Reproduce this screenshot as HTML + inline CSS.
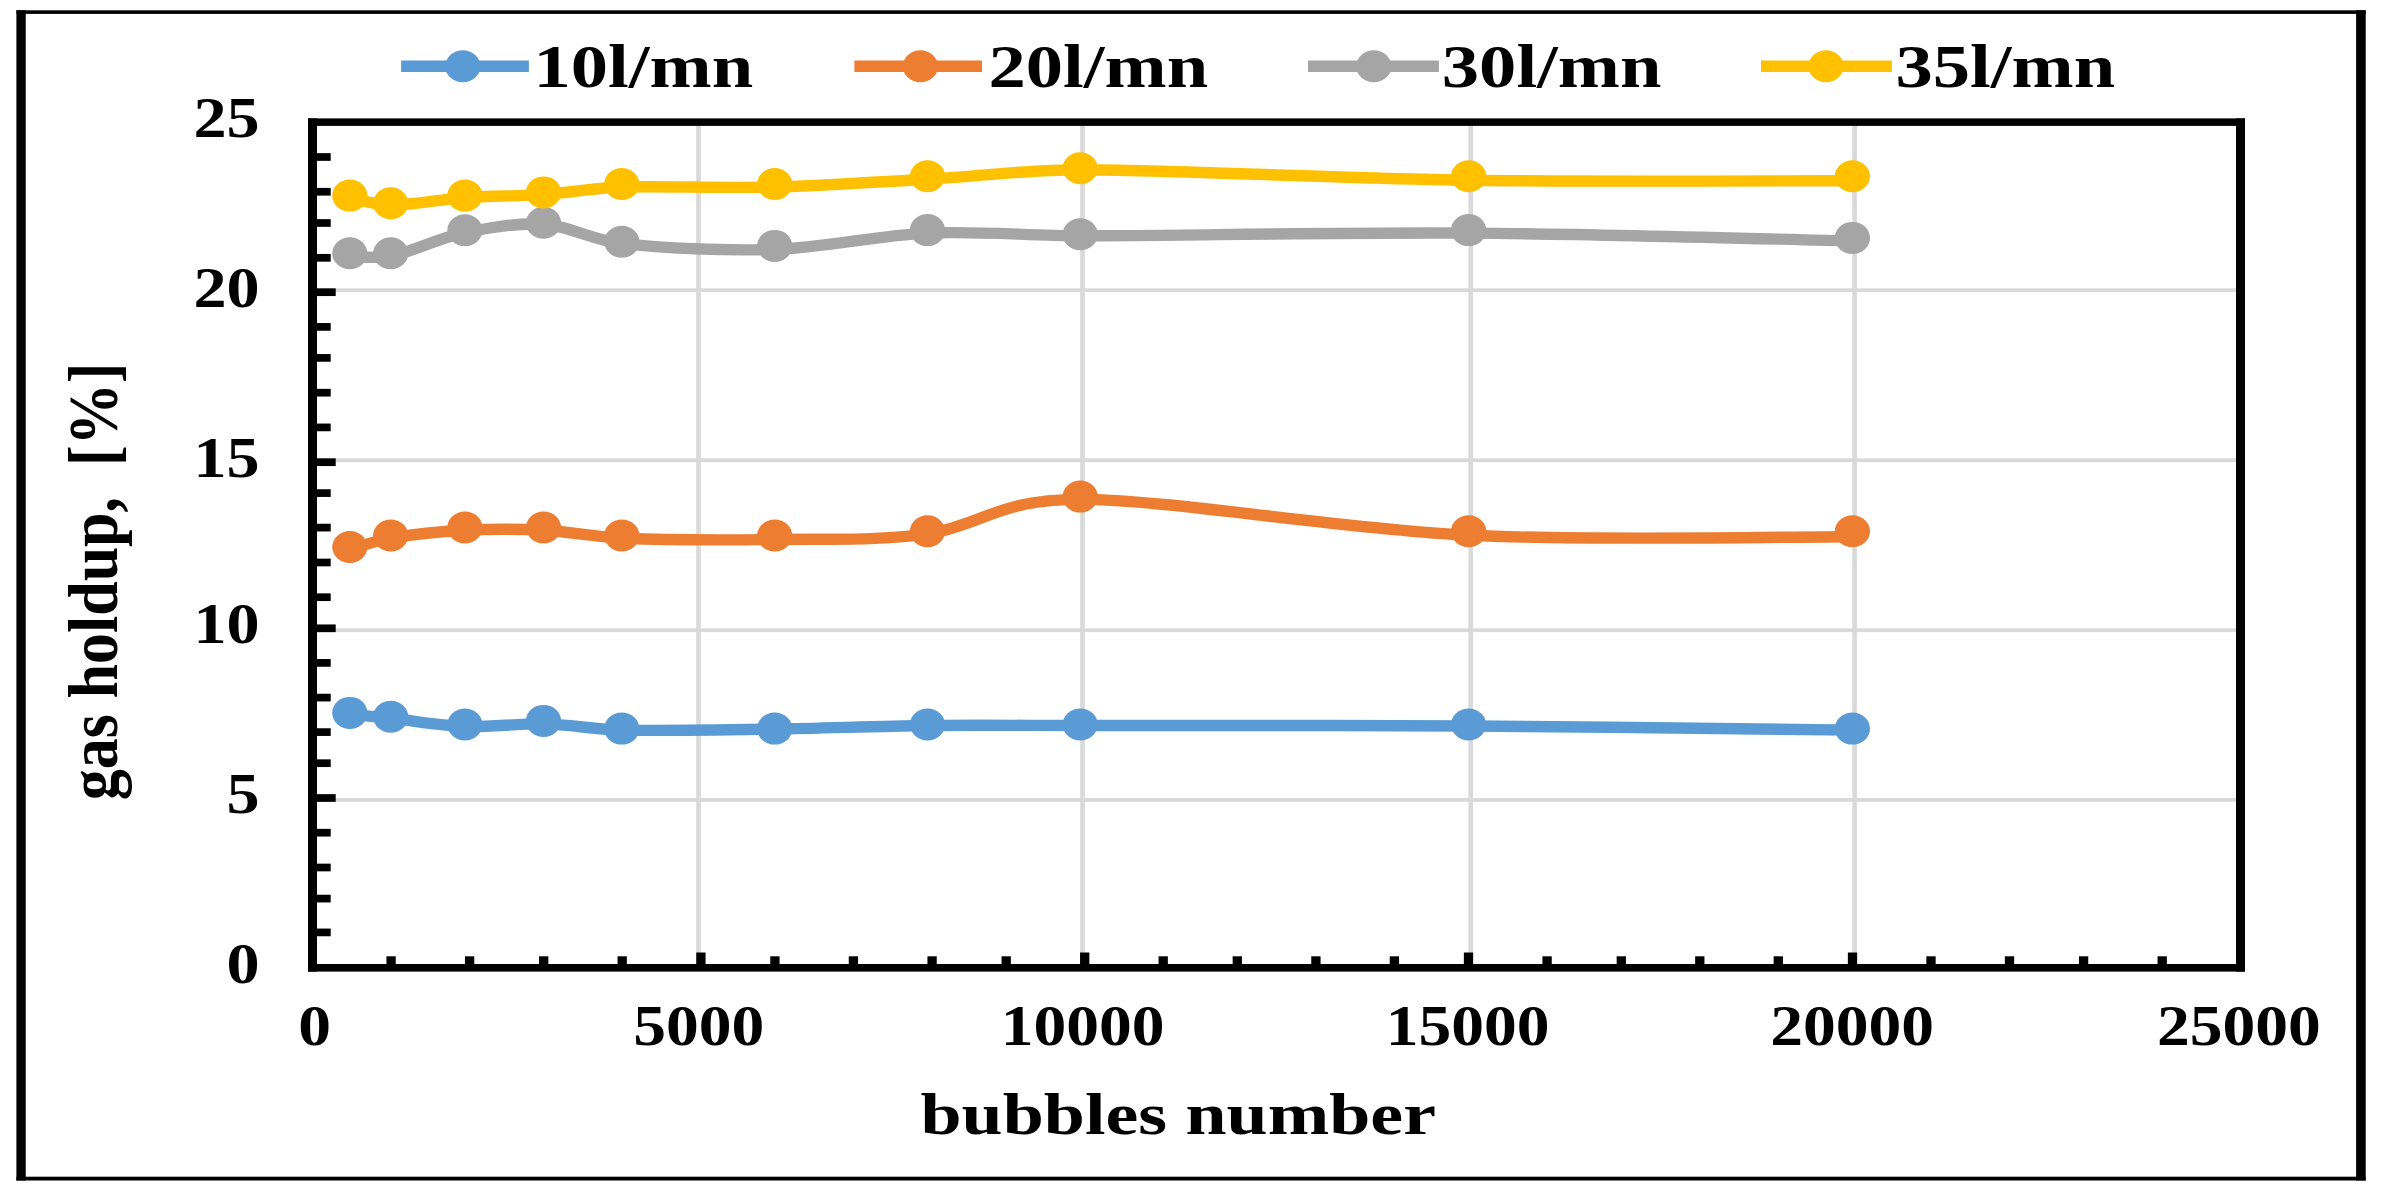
<!DOCTYPE html>
<html lang="en">
<head>
<meta charset="utf-8">
<title>gas holdup vs bubbles number</title>
<style>
html, body { margin: 0; padding: 0; background: #fff; }
body { width: 2384px; height: 1203px; overflow: hidden; }
svg { display: block; }
text { white-space: pre; }
</style>
</head>
<body>
<svg width="2384" height="1203" viewBox="0 0 2384 1203">
<rect x="0" y="0" width="2384" height="1203" fill="#fff"/>
<g id="frame">
<rect x="16.40" y="10.30" width="9.30" height="1170.20" fill="#000"/>
<rect x="2356.10" y="10.30" width="9.60" height="1170.20" fill="#000"/>
<rect x="16.40" y="10.30" width="2349.30" height="3.60" fill="#000"/>
<rect x="16.40" y="1176.70" width="2349.30" height="3.80" fill="#000"/>
</g>
<g id="grid">
<rect x="317.00" y="288.30" width="1919.00" height="3.80" fill="#d9d9d9"/>
<rect x="317.00" y="458.30" width="1919.00" height="3.80" fill="#d9d9d9"/>
<rect x="317.00" y="628.30" width="1919.00" height="3.80" fill="#d9d9d9"/>
<rect x="317.00" y="798.00" width="1919.00" height="3.80" fill="#d9d9d9"/>
<rect x="696.20" y="125.90" width="4.60" height="838.10" fill="#d9d9d9"/>
<rect x="1080.20" y="125.90" width="4.60" height="838.10" fill="#d9d9d9"/>
<rect x="1468.40" y="125.90" width="4.60" height="838.10" fill="#d9d9d9"/>
<rect x="1852.30" y="125.90" width="4.60" height="838.10" fill="#d9d9d9"/>
</g>
<g id="series">
<path d="M349.8,714.4 C356.6,715.0 377.1,716.8 390.7,718.2 C409.9,720.2 440.0,725.6 464.9,726.5 C490.4,727.5 517.4,723.3 543.5,723.9 C569.6,724.5 595.6,729.5 621.8,730.1 C660.3,731.0 723.8,729.9 774.7,729.1 C825.6,728.3 876.6,726.1 927.5,725.5 C978.4,724.9 1029.3,725.5 1080.2,725.5 C1170.4,725.6 1339.9,725.2 1468.6,726.0 C1596.5,726.8 1788.4,729.4 1852.4,730.1" fill="none" stroke="#5b9bd5" stroke-width="11.4" stroke-linecap="round" stroke-linejoin="round"/>
<ellipse cx="349.8" cy="712.9" rx="17.6" ry="16.0" fill="#5b9bd5"/>
<ellipse cx="390.7" cy="716.7" rx="17.6" ry="16.0" fill="#5b9bd5"/>
<ellipse cx="464.9" cy="724.5" rx="17.6" ry="16.0" fill="#5b9bd5"/>
<ellipse cx="543.5" cy="720.9" rx="17.6" ry="16.0" fill="#5b9bd5"/>
<ellipse cx="621.8" cy="728.6" rx="17.6" ry="16.0" fill="#5b9bd5"/>
<ellipse cx="774.7" cy="728.6" rx="17.6" ry="16.0" fill="#5b9bd5"/>
<ellipse cx="927.5" cy="724.5" rx="17.6" ry="16.0" fill="#5b9bd5"/>
<ellipse cx="1080.2" cy="724.5" rx="17.6" ry="16.0" fill="#5b9bd5"/>
<ellipse cx="1468.6" cy="724.5" rx="17.6" ry="16.0" fill="#5b9bd5"/>
<ellipse cx="1852.4" cy="728.6" rx="17.6" ry="16.0" fill="#5b9bd5"/>
<path d="M349.8,549.5 C356.6,547.6 376.7,540.3 390.7,538.0 C409.9,534.8 440.1,531.5 464.9,530.2 C490.4,528.9 517.4,528.9 543.5,530.2 C569.6,531.5 595.6,537.1 621.8,538.2 C660.3,539.8 723.8,540.2 774.7,539.5 C825.7,538.8 877.0,540.8 927.5,534.2 C986.0,523.4 996.9,499.6 1080.2,499.4 C1170.4,499.6 1339.9,529.0 1468.6,535.2 C1596.4,541.4 1788.4,536.5 1852.4,536.7" fill="none" stroke="#ed7d31" stroke-width="11.4" stroke-linecap="round" stroke-linejoin="round"/>
<ellipse cx="349.8" cy="547.0" rx="17.6" ry="16.0" fill="#ed7d31"/>
<ellipse cx="390.7" cy="535.5" rx="17.6" ry="16.0" fill="#ed7d31"/>
<ellipse cx="464.9" cy="527.5" rx="17.6" ry="16.0" fill="#ed7d31"/>
<ellipse cx="543.5" cy="527.5" rx="17.6" ry="16.0" fill="#ed7d31"/>
<ellipse cx="621.8" cy="535.5" rx="17.6" ry="16.0" fill="#ed7d31"/>
<ellipse cx="774.7" cy="535.5" rx="17.6" ry="16.0" fill="#ed7d31"/>
<ellipse cx="927.5" cy="531.2" rx="17.6" ry="16.0" fill="#ed7d31"/>
<ellipse cx="1080.2" cy="496.6" rx="17.6" ry="16.0" fill="#ed7d31"/>
<ellipse cx="1468.6" cy="531.2" rx="17.6" ry="16.0" fill="#ed7d31"/>
<ellipse cx="1852.4" cy="531.2" rx="17.6" ry="16.0" fill="#ed7d31"/>
<path d="M349.8,256.3 C356.6,256.3 377.3,259.0 390.7,256.3 C409.9,252.4 439.5,238.0 464.9,232.7 C490.4,227.4 517.4,222.5 543.5,224.3 C569.6,226.1 595.1,240.8 621.8,243.7 C660.3,247.9 723.8,251.2 774.7,249.4 C825.7,247.6 876.6,235.4 927.5,233.1 C978.4,230.8 1029.3,235.8 1080.2,235.8 C1170.4,235.8 1339.9,232.2 1468.6,233.1 C1596.6,233.9 1788.4,239.6 1852.4,240.9" fill="none" stroke="#a5a5a5" stroke-width="11.4" stroke-linecap="round" stroke-linejoin="round"/>
<ellipse cx="349.8" cy="253.3" rx="17.6" ry="16.0" fill="#a5a5a5"/>
<ellipse cx="390.7" cy="253.3" rx="17.6" ry="16.0" fill="#a5a5a5"/>
<ellipse cx="464.9" cy="230.2" rx="17.6" ry="16.0" fill="#a5a5a5"/>
<ellipse cx="543.5" cy="222.8" rx="17.6" ry="16.0" fill="#a5a5a5"/>
<ellipse cx="621.8" cy="241.7" rx="17.6" ry="16.0" fill="#a5a5a5"/>
<ellipse cx="774.7" cy="245.9" rx="17.6" ry="16.0" fill="#a5a5a5"/>
<ellipse cx="927.5" cy="230.1" rx="17.6" ry="16.0" fill="#a5a5a5"/>
<ellipse cx="1080.2" cy="234.3" rx="17.6" ry="16.0" fill="#a5a5a5"/>
<ellipse cx="1468.6" cy="230.1" rx="17.6" ry="16.0" fill="#a5a5a5"/>
<ellipse cx="1852.4" cy="237.9" rx="17.6" ry="16.0" fill="#a5a5a5"/>
<path d="M349.8,197.6 C356.6,198.9 376.8,205.3 390.7,205.3 C409.9,205.3 440.1,199.4 464.9,197.6 C490.4,195.8 517.4,196.2 543.5,194.4 C569.6,192.6 595.6,187.8 621.8,187.0 C660.3,185.8 723.8,188.3 774.7,187.0 C825.7,185.7 876.6,182.1 927.5,179.2 C978.4,176.3 1029.2,169.6 1080.2,169.7 C1170.4,169.9 1339.9,178.4 1468.6,180.2 C1596.5,182.0 1788.4,180.6 1852.4,180.7" fill="none" stroke="#ffc000" stroke-width="11.4" stroke-linecap="round" stroke-linejoin="round"/>
<ellipse cx="349.8" cy="195.6" rx="17.6" ry="16.0" fill="#ffc000"/>
<ellipse cx="390.7" cy="203.3" rx="17.6" ry="16.0" fill="#ffc000"/>
<ellipse cx="464.9" cy="195.6" rx="17.6" ry="16.0" fill="#ffc000"/>
<ellipse cx="543.5" cy="192.4" rx="17.6" ry="16.0" fill="#ffc000"/>
<ellipse cx="621.8" cy="184.0" rx="17.6" ry="16.0" fill="#ffc000"/>
<ellipse cx="774.7" cy="184.0" rx="17.6" ry="16.0" fill="#ffc000"/>
<ellipse cx="927.5" cy="176.2" rx="17.6" ry="16.0" fill="#ffc000"/>
<ellipse cx="1080.2" cy="168.2" rx="17.6" ry="16.0" fill="#ffc000"/>
<ellipse cx="1468.6" cy="176.2" rx="17.6" ry="16.0" fill="#ffc000"/>
<ellipse cx="1852.4" cy="176.2" rx="17.6" ry="16.0" fill="#ffc000"/>
</g>
<g id="axes" fill="#000">
<rect x="308.00" y="118.40" width="9.00" height="853.20" fill="#000"/>
<rect x="2236.00" y="118.40" width="9.00" height="853.20" fill="#000"/>
<rect x="308.00" y="118.40" width="1937.00" height="7.50" fill="#000"/>
<rect x="308.00" y="964.00" width="1937.00" height="7.60" fill="#000"/>
<rect x="316.00" y="153.15" width="14.70" height="7.70" fill="#000"/>
<rect x="316.00" y="187.90" width="14.70" height="7.70" fill="#000"/>
<rect x="316.00" y="219.15" width="14.70" height="7.70" fill="#000"/>
<rect x="316.00" y="253.95" width="14.70" height="7.70" fill="#000"/>
<rect x="316.00" y="288.35" width="19.70" height="7.70" fill="#000"/>
<rect x="316.00" y="323.05" width="14.70" height="7.70" fill="#000"/>
<rect x="316.00" y="354.05" width="14.70" height="7.70" fill="#000"/>
<rect x="316.00" y="388.85" width="14.70" height="7.70" fill="#000"/>
<rect x="316.00" y="423.55" width="14.70" height="7.70" fill="#000"/>
<rect x="316.00" y="458.35" width="19.70" height="7.70" fill="#000"/>
<rect x="316.00" y="489.25" width="14.70" height="7.70" fill="#000"/>
<rect x="316.00" y="523.75" width="14.70" height="7.70" fill="#000"/>
<rect x="316.00" y="558.65" width="14.70" height="7.70" fill="#000"/>
<rect x="316.00" y="593.35" width="14.70" height="7.70" fill="#000"/>
<rect x="316.00" y="624.45" width="19.70" height="7.70" fill="#000"/>
<rect x="316.00" y="659.05" width="14.70" height="7.70" fill="#000"/>
<rect x="316.00" y="693.75" width="14.70" height="7.70" fill="#000"/>
<rect x="316.00" y="728.25" width="14.70" height="7.70" fill="#000"/>
<rect x="316.00" y="759.35" width="14.70" height="7.70" fill="#000"/>
<rect x="316.00" y="794.15" width="19.70" height="7.70" fill="#000"/>
<rect x="316.00" y="828.85" width="14.70" height="7.70" fill="#000"/>
<rect x="316.00" y="863.65" width="14.70" height="7.70" fill="#000"/>
<rect x="316.00" y="894.75" width="14.70" height="7.70" fill="#000"/>
<rect x="316.00" y="928.55" width="14.70" height="7.70" fill="#000"/>
<rect x="386.45" y="956.30" width="9.30" height="8.70" fill="#000"/>
<rect x="464.95" y="956.30" width="9.30" height="8.70" fill="#000"/>
<rect x="539.05" y="956.30" width="9.30" height="8.70" fill="#000"/>
<rect x="617.55" y="956.30" width="9.30" height="8.70" fill="#000"/>
<rect x="696.25" y="952.50" width="9.30" height="12.50" fill="#000"/>
<rect x="770.25" y="956.30" width="9.30" height="8.70" fill="#000"/>
<rect x="848.75" y="956.30" width="9.30" height="8.70" fill="#000"/>
<rect x="927.45" y="956.30" width="9.30" height="8.70" fill="#000"/>
<rect x="1001.55" y="956.30" width="9.30" height="8.70" fill="#000"/>
<rect x="1080.05" y="952.50" width="9.30" height="12.50" fill="#000"/>
<rect x="1158.55" y="956.30" width="9.30" height="8.70" fill="#000"/>
<rect x="1232.65" y="956.30" width="9.30" height="8.70" fill="#000"/>
<rect x="1311.25" y="956.30" width="9.30" height="8.70" fill="#000"/>
<rect x="1389.75" y="956.30" width="9.30" height="8.70" fill="#000"/>
<rect x="1463.85" y="952.50" width="9.30" height="12.50" fill="#000"/>
<rect x="1542.45" y="956.30" width="9.30" height="8.70" fill="#000"/>
<rect x="1616.65" y="956.30" width="9.30" height="8.70" fill="#000"/>
<rect x="1695.15" y="956.30" width="9.30" height="8.70" fill="#000"/>
<rect x="1773.65" y="956.30" width="9.30" height="8.70" fill="#000"/>
<rect x="1847.85" y="952.50" width="9.30" height="12.50" fill="#000"/>
<rect x="1926.35" y="956.30" width="9.30" height="8.70" fill="#000"/>
<rect x="2004.85" y="956.30" width="9.30" height="8.70" fill="#000"/>
<rect x="2078.95" y="956.30" width="9.30" height="8.70" fill="#000"/>
<rect x="2157.55" y="956.30" width="9.30" height="8.70" fill="#000"/>
</g>
<g id="labels" font-family='"Liberation Serif", "DejaVu Serif", serif' font-weight="bold" fill="#000">
<text xml:space="preserve" transform="translate(259.5,982.8) scale(1.16,1)" font-size="57" text-anchor="end">0</text>
<text xml:space="preserve" transform="translate(259.5,812.5) scale(1.16,1)" font-size="57" text-anchor="end">5</text>
<text xml:space="preserve" transform="translate(259.5,642.8) scale(1.16,1)" font-size="57" text-anchor="end">10</text>
<text xml:space="preserve" transform="translate(259.5,476.9) scale(1.16,1)" font-size="57" text-anchor="end">15</text>
<text xml:space="preserve" transform="translate(259.5,306.7) scale(1.16,1)" font-size="57" text-anchor="end">20</text>
<text xml:space="preserve" transform="translate(259.5,136.8) scale(1.16,1)" font-size="57" text-anchor="end">25</text>
<text xml:space="preserve" transform="translate(314.7,1044.8) scale(1.15,1)" font-size="57" text-anchor="middle">0</text>
<text xml:space="preserve" transform="translate(698.8,1044.8) scale(1.15,1)" font-size="57" text-anchor="middle">5000</text>
<text xml:space="preserve" transform="translate(1082.6,1044.8) scale(1.15,1)" font-size="57" text-anchor="middle">10000</text>
<text xml:space="preserve" transform="translate(1467.6,1044.8) scale(1.15,1)" font-size="57" text-anchor="middle">15000</text>
<text xml:space="preserve" transform="translate(1852.2,1044.8) scale(1.15,1)" font-size="57" text-anchor="middle">20000</text>
<text xml:space="preserve" transform="translate(2238.8,1044.8) scale(1.15,1)" font-size="57" text-anchor="middle">25000</text>
<text xml:space="preserve" transform="translate(1178.2,1133.8) scale(1.232,1)" font-size="60.0" text-anchor="middle">bubbles number</text>
<text xml:space="preserve" transform="translate(116.6,581.4) scale(1.12,1) rotate(-90)" font-size="62" text-anchor="middle">gas holdup,  [%]</text>
</g>
<g id="legend">
<line x1="401.1" y1="66.3" x2="528.9" y2="66.3" stroke="#5b9bd5" stroke-width="11.4"/>
<ellipse cx="462.8" cy="66.3" rx="17.6" ry="16.0" fill="#5b9bd5"/>
<line x1="854.4" y1="66.3" x2="982.0" y2="66.3" stroke="#ed7d31" stroke-width="11.4"/>
<ellipse cx="920.4" cy="66.3" rx="17.6" ry="16.0" fill="#ed7d31"/>
<line x1="1308.0" y1="66.3" x2="1438.9" y2="66.3" stroke="#a5a5a5" stroke-width="11.4"/>
<ellipse cx="1373.8" cy="66.3" rx="17.6" ry="16.0" fill="#a5a5a5"/>
<line x1="1761.0" y1="66.3" x2="1891.9" y2="66.3" stroke="#ffc000" stroke-width="11.4"/>
<ellipse cx="1826.0" cy="66.3" rx="17.6" ry="16.0" fill="#ffc000"/>
</g>
<g id="legendtext" font-family='"Liberation Serif", "DejaVu Serif", serif' font-weight="bold" fill="#000">
<text xml:space="preserve" transform="translate(533.5,87.3) scale(1.213,1)" font-size="61.5" text-anchor="start">10l/mn</text>
<text xml:space="preserve" transform="translate(988.5,87.3) scale(1.213,1)" font-size="61.5" text-anchor="start">20l/mn</text>
<text xml:space="preserve" transform="translate(1441.8,87.3) scale(1.213,1)" font-size="61.5" text-anchor="start">30l/mn</text>
<text xml:space="preserve" transform="translate(1895.5,87.3) scale(1.213,1)" font-size="61.5" text-anchor="start">35l/mn</text>
</g>
</svg>
</body>
</html>
